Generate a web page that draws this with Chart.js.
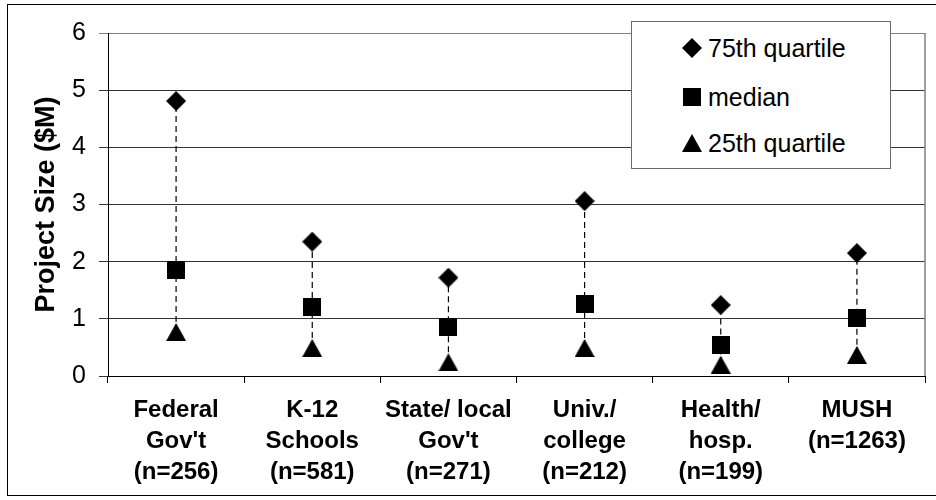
<!DOCTYPE html>
<html>
<head>
<meta charset="utf-8">
<script src="https://cdn.jsdelivr.net/npm/chart.js@4.4.1/dist/chart.umd.min.js"></script>
<style>
  body { margin: 0; background: #fff; }
  #wrap { position: relative; width: 936px; height: 500px; overflow: hidden; }
  #frame { position: absolute; left: 7px; top: 4px; width: 940px; height: 490px; border: 1px solid #000; }
  #chart { position: absolute; left: 0; top: 0; }
  #legend {
    position: absolute; left: 631px; top: 21px; width: 258px; height: 146px;
    border: 1px solid #6a6a6a; background: #fff;
    font: 25px 'Liberation Sans', Arial, sans-serif; color: #000;
  }
  .item { position: absolute; left: 0; height: 30px; line-height: 30px; white-space: nowrap; }
  .item canvas { position: absolute; top: 50%; transform: translate(-50%, -50%); }
  .item span { position: absolute; left: 76px; }
</style>
</head>
<body>
<div id="wrap">
  <div id="frame"></div>
  <canvas id="chart" width="936" height="500"></canvas>
  <div id="legend"></div>
</div>
<script>
// Categories (one array of lines per tick label)
const categories = [
    ['Federal', "Gov't", '(n=256)'],
    ['K-12', 'Schools', '(n=581)'],
    ['State/ local', "Gov't", '(n=271)'],
    ['Univ./', 'college', '(n=212)'],
    ['Health/', 'hosp.', '(n=199)'],
    ['MUSH', '(n=1263)']
];

// Series values ($M)
const q75 = [4.81, 2.35, 1.72, 3.06, 1.24, 2.15];
const median = [1.86, 1.20, 0.86, 1.26, 0.54, 1.02];
const q25 = [0.77, 0.49, 0.24, 0.49, 0.20, 0.37];

const seriesNames = ['75th quartile', 'median', '25th quartile'];
const yTicks = [0, 1, 2, 3, 4, 5, 6];

const labels = categories.map(c => c.join(' '));

// Marker images, centred on their bounding box like the original
function makeMarker(shape, w, h) {
    const c = document.createElement('canvas');
    c.width = w;
    c.height = h;
    const g = c.getContext('2d');
    g.fillStyle = '#000';
    g.beginPath();
    if (shape === 'diamond') {
        g.moveTo(w / 2, 0);
        g.lineTo(w, h / 2);
        g.lineTo(w / 2, h);
        g.lineTo(0, h / 2);
    } else if (shape === 'square') {
        g.rect(0, 0, w, h);
    } else {
        g.moveTo(w / 2, 0);
        g.lineTo(w, h);
        g.lineTo(0, h);
    }
    g.closePath();
    g.fill();
    return c;
}

const markers = [
    () => makeMarker('diamond', 20, 20),
    () => makeMarker('square', 18, 18),
    () => makeMarker('triangle', 20, 18)
];

// dashed high-low line for each category
const dropLines = labels.map((lab, i) => ({
    type: 'line',
    data: [{ x: lab, y: q25[i] }, { x: lab, y: q75[i] }],
    borderColor: '#000',
    borderWidth: 1.2,
    borderDash: [6, 4],
    pointRadius: 0,
    order: 10
}));

const pointSets = [q75, median, q25].map((vals, k) => ({
    type: 'line',
    label: seriesNames[k],
    data: vals,
    showLine: false,
    pointStyle: markers[k](),
    pointRadius: 10,
    order: 0
}));

// grey right-hand edge of the plot area
const plotEdge = {
    id: 'plotEdge',
    beforeDatasetsDraw(chart) {
        const { ctx, chartArea } = chart;
        ctx.save();
        ctx.strokeStyle = '#808080';
        ctx.lineWidth = 1.5;
        ctx.beginPath();
        ctx.moveTo(chartArea.right, chartArea.top);
        ctx.lineTo(chartArea.right, chartArea.bottom);
        ctx.stroke();
        ctx.restore();
    }
};

new Chart(document.getElementById('chart'), {
    type: 'line',
    data: {
        labels: labels,
        datasets: [...pointSets, ...dropLines]
    },
    options: {
        responsive: false,
        animation: false,
        layout: { padding: { top: 33, right: 3, left: 0, bottom: 0 } },
        plugins: {
            legend: { display: false },
            tooltip: { enabled: false }
        },
        scales: {
            x: {
                type: 'category',
                offset: true,
                grid: {
                    offset: true,
                    drawOnChartArea: false,
                    tickLength: 7,
                    color: '#000'
                },
                border: { color: '#000', width: 1 },
                ticks: {
                    callback: (v, i) => categories[i],
                    color: '#000',
                    padding: 12,
                    maxRotation: 0,
                    autoSkip: false,
                    font: { family: "'Liberation Sans', Arial", size: 24, weight: 'bold', lineHeight: 1.29 }
                },
                afterFit: s => { s.height = 124; }
            },
            y: {
                min: 0,
                max: 6,
                afterBuildTicks: s => { s.ticks = yTicks.map(v => ({ value: v })); },
                grid: {
                    tickLength: 9,
                    color: ctx => (ctx.tick && ctx.tick.value === 6 ? '#808080' : '#333')
                },
                border: { color: '#000', width: 1 },
                ticks: {
                    color: '#000',
                    padding: 13,
                    font: { family: "'Liberation Sans', Arial", size: 25 }
                },
                title: {
                    display: true,
                    text: 'Project Size ($M)',
                    color: '#000',
                    padding: { top: 30, bottom: 0 },
                    font: { family: "'Liberation Sans', Arial", size: 27, weight: 'bold', lineHeight: 1.2 }
                },
                afterFit: s => { s.width = 108; }
            }
        }
    },
    plugins: [plotEdge]
});

// HTML legend
const legend = document.getElementById('legend');
const rowTops = [11, 60, 106];
seriesNames.forEach((name, k) => {
    const item = document.createElement('div');
    item.className = 'item';
    item.style.top = rowTops[k] + 'px';
    const m = markers[k]();
    m.style.left = '60px';
    item.appendChild(m);
    const t = document.createElement('span');
    t.textContent = name;
    item.appendChild(t);
    legend.appendChild(item);
});
</script>
</body>
</html>
